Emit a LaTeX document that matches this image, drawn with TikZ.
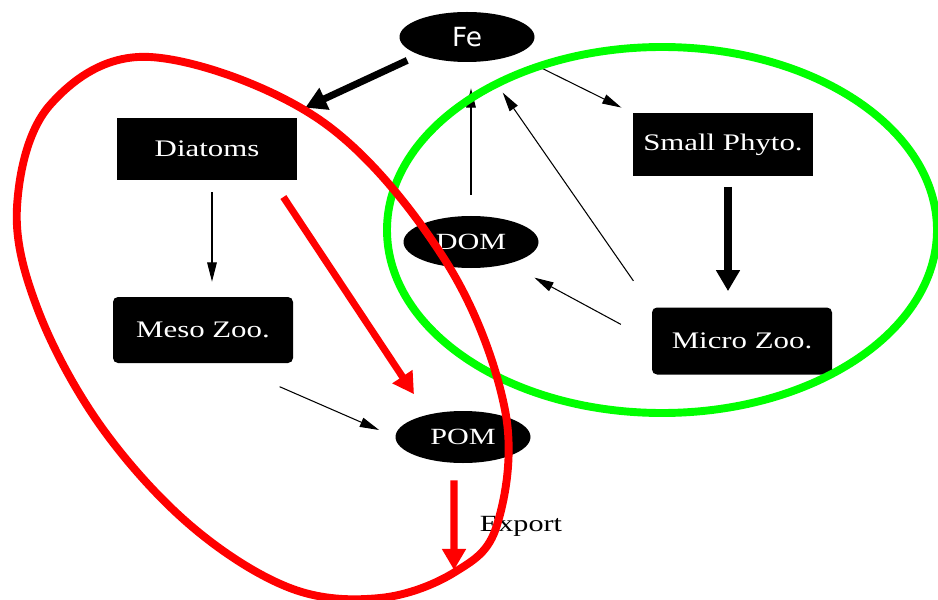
\documentclass[tikz,border=0pt]{standalone}
\usepackage{fontspec}
\setmainfont{Liberation Serif}
\newfontfamily\boxfont[FakeStretch=1.3]{Liberation Serif}
\newfontfamily\fefont{DejaVu Sans}
\usetikzlibrary{shapes.geometric, arrows.meta, positioning}

\begin{document}
\begin{tikzpicture}[x=0.2mm, y=-0.2mm,
    box/.style={fill=black, text=white, font=\boxfont\fontsize{13.5}{15}\selectfont, minimum width=3.6cm, inner sep=0pt},
    pool/.style={ellipse, fill=black, text=white, font=\boxfont\fontsize{13.2}{15}\selectfont, minimum width=2.7cm, minimum height=1.04cm, inner sep=0pt},
    flux/.style={-{Triangle[length=11pt,width=5.5pt]}, line width=0.6pt},
    bigflux/.style={-{Triangle[length=12pt,width=13pt]}, line width=4pt},
    redflux/.style={bigflux, red},
    zone/.style={line width=4.5pt}]
    \useasboundingbox (0,0) rectangle (938,600);

    % Pools
    \node[pool, font=\fefont\fontsize{15}{17}\selectfont, minimum height=1cm] (fe) at (467,37) {Fe};
    \node[box, minimum height=1.24cm] (diatoms) at (207,149) {Diatoms};
    \node[box, minimum height=1.26cm] (phyto) at (723,145) {Small Phyto.};
    \node[pool] (dom) at (471,242) {DOM};
    \node[box, rounded corners=1mm, minimum height=1.32cm] (meso) at (203,330) {Meso Zoo.};
    \node[box, rounded corners=1mm, minimum height=1.34cm] (micro) at (742,341) {Micro Zoo.};
    \node[pool] (pom) at (463,437) {POM};
    \coordinate (sink) at (454,570);
    \node[font=\boxfont\fontsize{13.2}{15}\selectfont] (export) at (521,526) {Export};

    % Fluxes
    \draw[bigflux, shorten <=0.26cm] (fe.south west) -- ([shift={(8,-10)}]diatoms.north east);
    \draw[flux, shorten <=0.52cm, shorten >=0.25cm] (fe.south east) -- (phyto.north west);
    \draw[flux, shorten <=0.42cm, shorten >=0.52cm] (dom.north) -- (dom.north |- fe.south);
    \draw[flux, shorten <=0.64cm, shorten >=0.75cm] (micro.north west) -- (fe.-60);
    \draw[flux, shorten <=0.24cm, shorten >=0.3cm] ([xshift=0.1cm]diatoms.south) -- ([xshift=0.1cm]diatoms.south |- meso.north);
    \draw[redflux, shorten <=0.4cm, shorten >=0.58cm] ([xshift=-0.5cm]diatoms.south east) -- ([xshift=0.3cm]pom.north west);
    \draw[bigflux, shorten <=0.2cm, shorten >=0.32cm] ([xshift=0.1cm]phyto.south) -- ([xshift=0.1cm]phyto.south |- micro.north);
    \draw[flux, shorten <=0.7cm, shorten >=0.58cm] (micro.west) -- (dom.-30);
    \draw[flux, shorten <=1.17cm, shorten >=0.35cm] ([xshift=0.46cm]meso.south) -- (pom.west);
    \draw[redflux, shorten <=0.34cm] ([xshift=-0.18cm]pom.south) -- (sink);

    % Groups
    \draw[green, zone] (662,230) ellipse [x radius=5.5cm, y radius=3.66cm];
    \draw[red, zone] plot[smooth cycle, tension=0.6] coordinates {(150,57) (320,120) (445,260) (505,410) (497,525) (455,572) (380,598) (290,588) (190,525) (100,425) (38,310) (17,207) (50,105)};
\end{tikzpicture}
\end{document}
